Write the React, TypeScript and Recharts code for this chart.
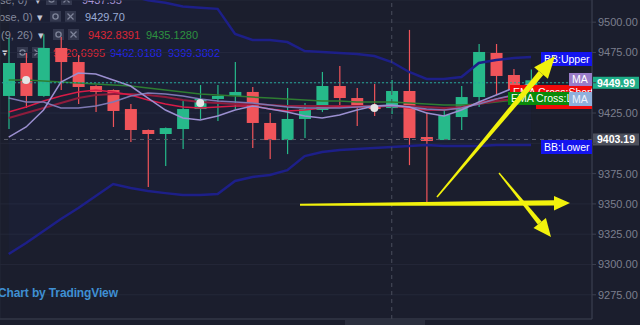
import React from "react";
import {
  ComposedChart,
  Bar,
  Line,
  Area,
  XAxis,
  YAxis,
  CartesianGrid,
  ReferenceLine,
} from "recharts";

// candles (one per bar slot)
const opens = [
  9439.1, 9466.3, 9439.1, 9478.7, 9467.1, 9447.3, 9444, 9428.3, 9411, 9407.7,
  9411.8, 9428.3, 9436.6, 9439.1, 9442.4, 9416.8, 9402.7, 9420.1, 9427.5, 9447.3,
  9437.4, 9430.8, 9429.1, 9443.2, 9405.2, 9402.7, 9421.7, 9438.2, 9474.6, 9456.4, 9445,
];
const highs = [
  9487, 9474.6, 9490, 9487.8, 9472.9, 9448, 9444.5, 9432.5, 9411.5, 9413,
  9434.9, 9448.1, 9448.1, 9467.1, 9446.5, 9425, 9445.7, 9433.3, 9458.9, 9463.8,
  9445.7, 9449, 9452.3, 9493.6, 9425.8, 9427.5, 9447.3, 9482, 9482, 9461.4, 9461,
];
const lows = [
  9411.8, 9429.2, 9438.5, 9444, 9432.5, 9425.8, 9413.5, 9401.1, 9363.9, 9381.3,
  9395.3, 9420.1, 9418.4, 9428.3, 9396.1, 9387, 9391.1, 9404.4, 9425.8, 9430,
  9414.3, 9422.5, 9424.2, 9382, 9351.5, 9402.7, 9411, 9430, 9439.9, 9440, 9440,
];
const closes = [
  9466.3, 9439.1, 9478.7, 9467.1, 9446.5, 9442.4, 9426.7, 9411, 9407.7, 9412.6,
  9428.3, 9436.6, 9439.1, 9442.4, 9416.8, 9402.7, 9420.1, 9428.3, 9447.3, 9437.4,
  9430, 9428.3, 9443.2, 9404.4, 9401.9, 9423.4, 9438.2, 9475.4, 9455.6, 9444, 9452,
];

// bollinger bands
const bbUpper = [
  9543, 9543, 9543, 9539, 9535, 9531, 9527, 9522, 9518, 9516,
  9513, 9512, 9511, 9490.3, 9485.3, 9485.3, 9483.6, 9476.2, 9475.4, 9474.6,
  9473.7, 9472.1, 9467.1, 9458.9, 9453.1, 9453.1, 9454.7, 9466.3, 9468.8, 9470.4, 9471.3,
];
const bbLower = [
  9308.6, 9317.7, 9327.6, 9337.5, 9346.6, 9356.5, 9366.4, 9363.1, 9360.6, 9358.9,
  9357.3, 9357.3, 9358.1, 9368.9, 9372.2, 9373.8, 9377.9, 9389.5, 9392.8, 9394.5,
  9395.3, 9396.1, 9396.9, 9397.8, 9398.6, 9397.8, 9397.8, 9397.8, 9398.6, 9398.6, 9398.6,
];

// moving averages
const maFast = [
  9405.2, 9413.5, 9427.5, 9450.6, 9458, 9457.2, 9452.3, 9447.3, 9437.4, 9427.5,
  9420.9, 9419.2, 9422.5, 9427.5, 9430.8, 9428.3, 9425.8, 9422.5, 9420.9, 9423.4,
  9427.5, 9430.8, 9431.6, 9430, 9425, 9422.5, 9427.5, 9434.1, 9439.9, 9445.7, 9449,
];
const maSlow = [
  9437.4, 9434.1, 9434.1, 9429.1, 9429.1, 9430.8, 9434.1, 9439.1, 9441.5, 9440.7,
  9439.1, 9436.6, 9434.9, 9434.1, 9433.3, 9431.6, 9430, 9429.1, 9429.1, 9429.1,
  9430, 9430.8, 9430.8, 9430, 9428.3, 9427.5, 9429.1, 9432.5, 9436.6, 9439.9, 9442.4,
];
const emaShort = [
  9425.8, 9430, 9434.9, 9439.1, 9442.4, 9444, 9442.4, 9439.9, 9435.8, 9432.5,
  9430, 9429.1, 9430, 9430.8, 9430.8, 9428.3, 9426.7, 9427.5, 9429.1, 9430,
  9430, 9430, 9430.8, 9429.1, 9427.5, 9427.5, 9429.1, 9433.3, 9436.6, 9439.1, 9439.9,
];
const emaLong = [
  9420.9, 9425, 9429.1, 9433.3, 9437.4, 9439.9, 9440.7, 9440.7, 9439.9, 9438.2,
  9435.8, 9434.1, 9433.3, 9432.5, 9432.5, 9431.6, 9430.8, 9430.8, 9430.8, 9430.8,
  9430.8, 9430.8, 9430.8, 9430.8, 9430, 9429.1, 9430, 9432.5, 9434.9, 9436.6, 9438.2,
];
const sma = [
  9452.3, 9452.3, 9451.4, 9450.6, 9449.8, 9449, 9448.1, 9447.3, 9445.7, 9444,
  9442.4, 9440.7, 9439.9, 9439.1, 9438.2, 9437.4, 9436.6, 9435.8, 9434.9, 9434.9,
  9434.1, 9434.1, 9434.1, 9433.3, 9432.5, 9431.6, 9431.6, 9432.5, 9434.1, 9435.8, 9437.4,
];

// white markers (bar index -> price)
const markerBars = [1, 11, 21];
const markerPrices = [9452.3, 9433.3, 9429.1];

const priceTicks = [9275, 9300, 9325, 9350, 9375, 9400, 9425, 9450, 9475, 9500];
const hiddenTicks = [9400, 9450]; // covered by the price tags
const gridBars = [2, 8, 14, 20, 26, 32];
const slotCount = 34; // 31 bars + empty space on the right
const lastPrice = 9449.99;
const lowLine = 9403.19;

const BG = "#1b1e2d";
const UP = "#26b98a";
const DOWN = "#f0545a";
const FONT = "'Liberation Sans', Arial, sans-serif";

const data = Array.from({ length: slotCount }, (_, i) => {
  const m = markerBars.indexOf(i);
  return {
    i,
    o: opens[i] ?? null,
    h: highs[i] ?? null,
    l: lows[i] ?? null,
    c: closes[i] ?? null,
    bbU: bbUpper[i] ?? null,
    bbL: bbLower[i] ?? null,
    maFast: maFast[i] ?? null,
    maSlow: maSlow[i] ?? null,
    emaShort: emaShort[i] ?? null,
    emaLong: emaLong[i] ?? null,
    sma: sma[i] ?? null,
    dot: m >= 0 ? markerPrices[m] : null,
  };
});

function Candle(props: any) {
  const { x, y, width, height, payload } = props;
  if (!payload || payload.o == null || height == null) return <g />;
  const top = Math.min(y, y + height);
  const span = Math.abs(height);
  const k = span / Math.max(payload.h - payload.l, 0.0001);
  const color = payload.c >= payload.o ? UP : DOWN;
  const bodyTop = top + (payload.h - Math.max(payload.o, payload.c)) * k;
  const bodyH = Math.max(1.5, Math.abs(payload.o - payload.c) * k);
  const cx = x + width / 2;
  return (
    <g>
      <line x1={cx} x2={cx} y1={top} y2={top + span} stroke={color} strokeWidth={1.2} />
      <rect x={x} y={bodyTop} width={width} height={bodyH} fill={color} />
    </g>
  );
}

function PriceTag(props: any) {
  const { viewBox, text, fill } = props;
  if (!viewBox) return null;
  const x = viewBox.x + viewBox.width + 1;
  const y = viewBox.y;
  return (
    <g>
      <rect x={x} y={y - 6} width={46} height={12} fill={fill} />
      <text x={x + 23} y={y + 4} textAnchor="middle" fill="#ffffff" fontSize={10.5} fontWeight="bold" fontFamily={FONT}>
        {text}
      </text>
    </g>
  );
}

function Icons({ x, y }: { x: number; y: number }) {
  return (
    <g>
      <rect x={x} y={y} width={11} height={11} fill="#353949" />
      <circle cx={x + 5.5} cy={y + 5.5} r={2.6} fill="none" stroke="#858a99" strokeWidth={1.4} />
      <rect x={x + 15} y={y} width={11} height={11} fill="#353949" />
      <line x1={x + 17.5} y1={y + 2.5} x2={x + 23.5} y2={y + 8.5} stroke="#858a99" strokeWidth={1.3} />
      <line x1={x + 23.5} y1={y + 2.5} x2={x + 17.5} y2={y + 8.5} stroke="#858a99" strokeWidth={1.3} />
    </g>
  );
}

function LegendLayer() {
  const gray = "#8c909e";
  return (
    <svg width={640} height={325} style={{ position: "absolute", left: 0, top: 0 }} fontFamily={FONT} fontSize={11}>
      <text x={0} y={4} fill={gray}>se, 0)</text>
      <text x={35} y={4} fill="#d0d3dc">▾</text>
      <Icons x={46} y={-6} />
      <text x={82} y={4} fill="#b39ddb">9437.55</text>

      <text x={-1} y={21} fill={gray}>ose, 0)</text>
      <text x={37} y={21} fill="#d0d3dc">▾</text>
      <Icons x={50} y={11} />
      <text x={85} y={21} fill="#a3b6dc">9429.70</text>

      <text x={1} y={39} fill={gray}>(9, 26)</text>
      <text x={38} y={39} fill="#d0d3dc">▾</text>
      <Icons x={53} y={29} />
      <text x={88} y={39} fill="#e8262f">9432.8391</text>
      <text x={146} y={39} fill="#2e9a3a">9435.1280</text>

      <text x={2} y={56} fill="#d0d3dc">▾</text>
      <Icons x={17} y={47} />
      <text x={53} y={57} fill="#e8262f">9420.6995</text>
      <text x={110} y={57} fill="#2424ee">9462.0188</text>
      <text x={168} y={57} fill="#2424ee">9399.3802</text>
    </svg>
  );
}

function Tag({ x, y, w, h, fill, text, color = "#ffffff", base }: any) {
  return (
    <g>
      <rect x={x} y={y} width={w} height={h} fill={fill} />
      {text ? (
        <text x={x + 3} y={base ?? y + h - 3.5} fill={color} fontSize={10.5} fontFamily={FONT}>
          {text}
        </text>
      ) : null}
    </g>
  );
}

function AnnotationLayer() {
  const yellow = "#f2f20c";
  return (
    <svg width={640} height={325} style={{ position: "absolute", left: 0, top: 0, pointerEvents: "none" }}>
      <defs>
        <clipPath id="plotClip">
          <rect x={0} y={0} width={592} height={319} />
        </clipPath>
        <clipPath id="greenClip">
          <rect x={508} y={92} width={61} height={13} />
        </clipPath>
      </defs>
      <g clipPath="url(#plotClip)">
        <Tag x={541} y={52} w={51} h={14} fill="#1414ee" text="BB:Upper" />
        <Tag x={510} y={85} w={82} h={13} fill="#f00a0a" text="EMA Cross:Short" base={96} />
        <Tag x={536} y={96} w={56} h={13} fill="#f00a0a" />
        <g clipPath="url(#greenClip)">
          <Tag x={508} y={92} w={61} h={13} fill="#0a8a0a" text="EMA Cross:Long" />
        </g>
        <Tag x={569} y={73} w={23} h={13} fill="#9a7cc8" text="MA" />
        <Tag x={569} y={92} w={23} h={14} fill="#8fb0db" text="MA" color="#eef2fa" />
        <Tag x={541} y={140} w={51} h={14} fill="#1414ee" text="BB:Lower" />
      </g>

      <text x={-2} y={297} fill="#3f8fd2" fontSize={12} fontWeight={600} fontFamily={FONT} textLength={120}>
        Chart by TradingView
      </text>
      <rect x={345} y={320} width={80} height={5} fill="#2b2f3e" />

      {/* yellow hand-drawn arrows */}
      <polygon points="300,203.8 555,200.2 555,205.6 300,205.8" fill={yellow} />
      <polygon points="554,196 570,203 554,210.5" fill={yellow} />
      <polygon points="436.4,196.5 538.7,71.1 543.3,74.9 437.6,197.5" fill={yellow} />
      <polygon points="534.1,67.3 555,56 547.9,78.7" fill={yellow} />
      <polygon points="498.5,173.4 537.8,224.6 541.6,221.4 499.5,172.6" fill={yellow} />
      <polygon points="533.5,228 551,237 545.9,218" fill={yellow} />
    </svg>
  );
}

function WhiteDot(props: any) {
  const { cx, cy, payload, index } = props;
  if (!payload || payload.dot == null || cy == null) return <g key={index} />;
  return <circle key={index} cx={cx} cy={cy} r={4} fill="#e4e4e4" />;
}

export default function App() {
  const lineProps = { dot: false, activeDot: false, isAnimationActive: false } as const;
  return (
    <div style={{ position: "absolute", left: 0, top: 0, width: 640, height: 325, background: BG, overflow: "hidden" }}>
      <LegendLayer />
      <div style={{ position: "absolute", left: 0, top: 0 }}>
        <ComposedChart width={640} height={325} data={data} margin={{ top: 0, right: 0, bottom: 0, left: 0 }}>
          <CartesianGrid stroke="#242838" />
          <XAxis
            dataKey="i"
            type="category"
            height={6}
            ticks={gridBars}
            interval={0}
            tick={false}
            tickSize={4}
            axisLine={{ stroke: "#3a3e4d" }}
            tickLine={{ stroke: "#3a3e4d" }}
          />
          <YAxis
            orientation="right"
            width={48}
            domain={[9255, 9518.3]}
            allowDataOverflow
            ticks={priceTicks}
            interval={0}
            tickFormatter={(v: number) => (hiddenTicks.includes(v) ? "" : v.toFixed(2))}
            tick={{ fill: "#7b7f8d", fontSize: 11, fontFamily: FONT }}
            tickSize={4}
            tickMargin={2}
            axisLine={{ stroke: "#3d4150" }}
            tickLine={{ stroke: "#3d4150" }}
          />
          <Area
            dataKey={(d: any) => (d.bbU == null ? null : [d.bbL, d.bbU])}
            stroke="none"
            fill="#2b308f"
            fillOpacity={0.08}
            activeDot={false}
            isAnimationActive={false}
          />
          <Line dataKey="bbU" stroke="#1d1f88" strokeWidth={2.5} {...lineProps} />
          <Line dataKey="bbL" stroke="#1d1f88" strokeWidth={2.5} {...lineProps} />
          <ReferenceLine x={22} stroke="#4a4e5d" strokeDasharray="4 4" />
          <ReferenceLine
            y={lowLine}
            stroke="#5a5e6b"
            strokeDasharray="4 4"
            label={<PriceTag text="9403.19" fill="#4d505c" />}
          />
          <Bar
            dataKey={(d: any) => (d.o == null ? null : [d.l, d.h])}
            barSize={12}
            shape={(p: any) => <Candle {...p} />}
            activeBar={false}
            isAnimationActive={false}
          />
          <Line dataKey="sma" stroke="#2e7d32" strokeWidth={1.5} {...lineProps} />
          <Line dataKey="emaLong" stroke="#8e1c3c" strokeWidth={2} {...lineProps} />
          <Line dataKey="emaShort" stroke="#d81b47" strokeWidth={1.5} {...lineProps} />
          <Line dataKey="maSlow" stroke="#7d78b3" strokeWidth={1.5} {...lineProps} />
          <Line dataKey="maFast" stroke="#9b8fd0" strokeWidth={1.5} {...lineProps} />
          <ReferenceLine
            y={lastPrice}
            stroke="#26a69a"
            strokeDasharray="2 2"
            label={<PriceTag text="9449.99" fill="#1fae88" />}
          />
          <Line
            dataKey="dot"
            stroke="none"
            dot={(p: any) => <WhiteDot {...p} />}
            activeDot={false}
            isAnimationActive={false}
          />
        </ComposedChart>
      </div>
      <AnnotationLayer />
    </div>
  );
}
